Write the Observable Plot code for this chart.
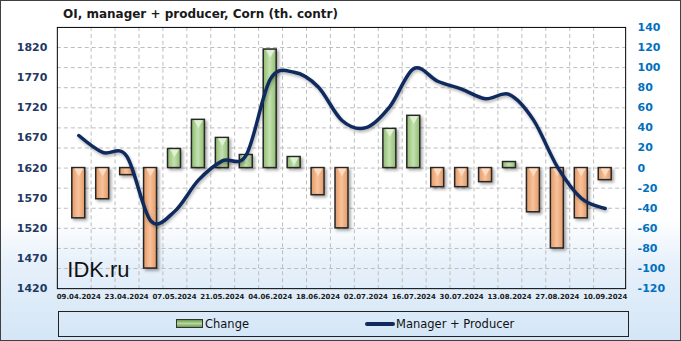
<!DOCTYPE html>
<html><head><meta charset="utf-8">
<script src="https://cdn.jsdelivr.net/npm/d3@7"></script>
<script src="https://cdn.jsdelivr.net/npm/@observablehq/plot@0.6"></script>
<style>
html,body{margin:0;padding:0;background:#fff;}
#chart{position:relative;width:679px;height:339px;border:1px solid #404040;
  background:linear-gradient(to bottom,#ffffff 0%,#ffffff 64%,#e6f0fa 78%,#d4e6f7 100%);
  overflow:hidden;font-family:"DejaVu Sans",sans-serif;}
#chart svg{position:absolute;left:-1px;top:-1px;}
#title{position:absolute;left:62px;top:6px;font:bold 12px "DejaVu Sans",sans-serif;color:#1a1a1a;white-space:nowrap;}
#legend{position:absolute;left:57px;top:310px;width:569px;height:24px;border:1px solid #222;}
.lg{position:absolute;top:5px;font:11.5px "DejaVu Sans",sans-serif;color:#111;white-space:nowrap;}
#chart svg g[aria-label="bar"]{filter:drop-shadow(2px 2px 1.5px rgba(0,0,0,0.35));}
#chart svg g[aria-label="line"]{filter:drop-shadow(1px 2px 1.5px rgba(0,0,0,0.3));}
</style></head>
<body>
<div id="chart">
  <div id="title">OI, manager + producer, Corn (th. contr)</div>
  <div id="legend">
    <div style="position:absolute;left:117px;top:7px;width:25px;height:7px;border:1px solid #333;background:linear-gradient(to bottom,#6f9a50,#b5d89c,#6f9a50);"></div>
    <div class="lg" style="left:146px;">Change</div>
    <div style="position:absolute;left:306px;top:10px;width:30px;height:4px;border-radius:2px;background:#0f2a5f;"></div>
    <div class="lg" style="left:337px;">Manager + Producer</div>
  </div>
</div>
<script>
const dates = ["09.04.2024","16.04.2024","23.04.2024","30.04.2024","07.05.2024","14.05.2024","21.05.2024","28.05.2024","04.06.2024","11.06.2024","18.06.2024","25.06.2024","02.07.2024","09.07.2024","16.07.2024","23.07.2024","30.07.2024","06.08.2024","13.08.2024","20.08.2024","27.08.2024","03.09.2024","10.09.2024"];
const change = [-50,-31,-7,-100,19,48,30,13,118,11,-27,-60,0,39,52,-19,-19,-14,6,-44,-80,-50,-12];
const manager = [1674,1646,1640,1533,1548,1600,1632,1642,1767,1779,1755,1699,1687,1722,1785,1764,1751,1735,1742,1700,1622,1570,1553];
const leftTicks = [1420,1470,1520,1570,1620,1670,1720,1770,1820];
const rightTicks = [-120,-100,-80,-60,-40,-20,0,20,40,60,80,100,120,140];
const xLabels = dates.filter((d,i)=>i%2===0);

// left axis value -> right axis units (1620 aligned with 0; 50 left units = 30 right units)
const toR = v => (v - 1620) * 0.6;

const rows = dates.map((d,i)=>({date:d, change:change[i], manager:manager[i]}));
const neg = rows.filter(r=>r.change<0);
const pos = rows.filter(r=>r.change>0);
const gridY = rightTicks.slice(1,-1);

const plot = Plot.plot({
  width:681, height:305,
  marginLeft:57, marginRight:54, marginTop:27, marginBottom:16,
  style:{background:"transparent", overflow:"visible"},
  x:{type:"band", domain:dates, paddingInner:0.47, paddingOuter:0.235, axis:null},
  y:{domain:[-120,140], axis:null},
  marks:[
    Plot.ruleY(gridY, {stroke:"#bdbdbd", strokeDasharray:"4,3", strokeWidth:1}),
    Plot.ruleX(dates.slice(0,-1), {x:d=>d, dx:12.39, stroke:"#bdbdbd", strokeDasharray:"4,3", strokeWidth:1}),
    Plot.barY(neg, {x:"date", y:"change", fill:"url(#gO)", stroke:"#262626", strokeWidth:1.5}),
    Plot.barY(pos, {x:"date", y:"change", fill:"url(#gG)", stroke:"#262626", strokeWidth:1.5}),
    Plot.dot(neg.filter(r=>r.change<-8), {x:"date", y:0, dy:3, symbol:"triangle", rotate:180, r:3.3, fill:"#fcdcc2", stroke:"none"}),
    Plot.dot(pos.filter(r=>r.change>8), {x:"date", y:"change", dy:3, symbol:"triangle", rotate:180, r:3.3, fill:"#e0f1d4", stroke:"none"}),
    Plot.line(rows, {x:"date", y:d=>toR(d.manager), curve:"cardinal", stroke:"#0f2a5f", strokeWidth:3.5}),
    Plot.frame({stroke:"#000", strokeWidth:1}),
    Plot.text(leftTicks, {y:d=>toR(d), text:d=>String(d), frameAnchor:"left", textAnchor:"end", dx:-10,
      fill:"#1f3864", fontWeight:"bold", fontSize:11, fontFamily:"DejaVu Sans"}),
    Plot.text(rightTicks, {y:d=>d, text:d=>String(d), frameAnchor:"right", textAnchor:"start", dx:12,
      fill:"#0070c0", fontWeight:"bold", fontSize:11, fontFamily:"DejaVu Sans"}),
    Plot.text(xLabels, {x:d=>d, text:d=>d, frameAnchor:"bottom", lineAnchor:"middle", dy:8,
      fill:"#1a1a1a", fontWeight:"bold", fontSize:7, fontFamily:"DejaVu Sans"}),
    Plot.text(["IDK.ru"], {text:d=>d, frameAnchor:"bottom-left", textAnchor:"start", lineAnchor:"bottom", dx:10, dy:-12,
      fill:"#111", fontSize:22, fontFamily:"Liberation Sans"})
  ]
});
d3.select(plot).insert("defs", ":first-child").html(`
  <linearGradient id="gO" x1="0" x2="1" y1="0" y2="0">
    <stop offset="0" stop-color="#e39a68"/><stop offset="0.5" stop-color="#f8c29b"/><stop offset="1" stop-color="#e39a68"/>
  </linearGradient>
  <linearGradient id="gG" x1="0" x2="1" y1="0" y2="0">
    <stop offset="0" stop-color="#8fbc70"/><stop offset="0.5" stop-color="#c4e1b0"/><stop offset="1" stop-color="#8fbc70"/>
  </linearGradient>`);
document.getElementById("chart").appendChild(plot);
</script>
</body></html>
